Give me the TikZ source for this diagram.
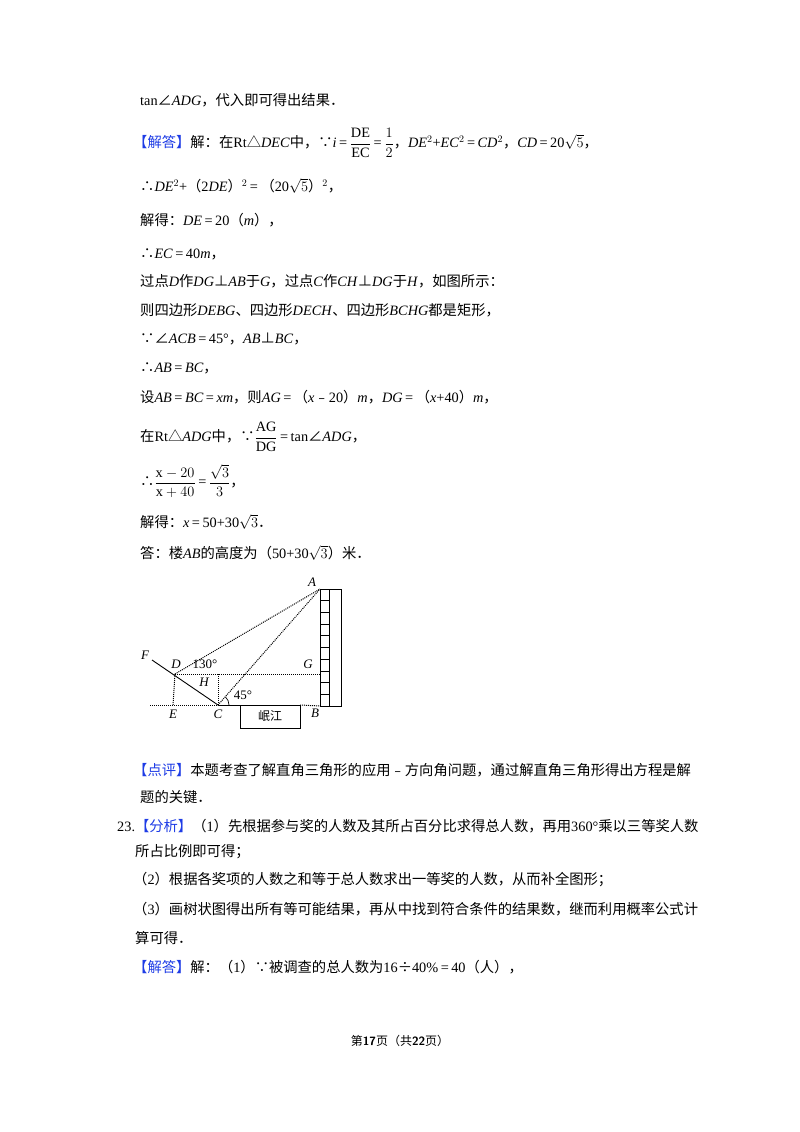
\documentclass[tikz,border=0pt]{standalone}
\usepackage{amsmath}
\usepackage{fontspec}
\usetikzlibrary{calc}
\setmainfont{Liberation Serif}
\newfontfamily\cjk{Noto Sans CJK SC}
\newcommand{\zh}[1]{{\cjk #1}}
\newcommand{\iv}[1]{\textit{#1}}
\newcommand{\eqq}{\hspace{2.5pt}=\hspace{2.5pt}}
\definecolor{hdblue}{RGB}{30,60,230}
\tikzset{ln/.style={anchor=west,inner sep=0pt,font=\fontsize{14.3}{16}\selectfont},
 dot/.style={densely dotted,line width=1pt},
 lbl/.style={font=\fontsize{13}{14}\selectfont\itshape,inner sep=1pt}}
\begin{document}
\begin{tikzpicture}[x=1pt,y=-1pt]
\useasboundingbox[fill=white] (0,0) rectangle (800,1132);
\node[ln] (l1) at (140,100) {tan\zh{∠}\iv{ADG}\zh{，代入即可得出结果．}};
\node[ln] (l2) at (133,143) {\textcolor{hdblue}{\zh{【解答】}}\zh{解：在}Rt\zh{△}\iv{DEC}\zh{中，∵}\iv{i}\eqq$\displaystyle\frac{\mathrm{DE}}{\mathrm{EC}}$\eqq$\displaystyle\frac{1}{2}$\zh{，}\iv{DE}$^2$+\iv{EC}$^2$\eqq\iv{CD}$^2$\zh{，}\iv{CD}\eqq20$\sqrt{5}$\zh{，}};
\node[ln] (l3) at (140,186) {\zh{∴}\iv{DE}$^2$+\zh{（}2\iv{DE}\zh{）}$^2$\eqq\zh{（}20$\sqrt{5}$\zh{）}$^2$\zh{，}};
\node[ln] (l4) at (140,220) {\zh{解得：}\iv{DE}\eqq20\zh{（}\iv{m}\zh{），}};
\node[ln] (l5) at (140,254) {\zh{∴}\iv{EC}\eqq40\iv{m}\zh{，}};
\node[ln] (l6) at (140,281) {\zh{过点}\iv{D}\zh{作}\iv{DG}\zh{⊥}\iv{AB}\zh{于}\iv{G}\zh{，过点}\iv{C}\zh{作}\iv{CH}\zh{⊥}\iv{DG}\zh{于}\iv{H}\zh{，如图所示：}};
\node[ln] (l7) at (140,310) {\zh{则四边形}\iv{DEBG}\zh{、四边形}\iv{DECH}\zh{、四边形}\iv{BCHG}\zh{都是矩形，}};
\node[ln] (l8) at (140,339) {\zh{∵∠}\iv{ACB}\eqq45°\zh{，}\iv{AB}\zh{⊥}\iv{BC}\zh{，}};
\node[ln] (l9) at (140,368) {\zh{∴}\iv{AB}\eqq\iv{BC}\zh{，}};
\node[ln] (l10) at (140,397) {\zh{设}\iv{AB}\eqq\iv{BC}\eqq\iv{xm}\zh{，则}\iv{AG}\eqq\zh{（}\iv{x}\zh{﹣}20\zh{）}\iv{m}\zh{，}\iv{DG}\eqq\zh{（}\iv{x}+40\zh{）}\iv{m}\zh{，}};
\node[ln] (l11) at (140,437) {\zh{在}Rt\zh{△}\iv{ADG}\zh{中，∵}$\displaystyle\frac{\mathrm{AG}}{\mathrm{DG}}$\eqq tan\zh{∠}\iv{ADG}\zh{，}};
\node[ln] (l12) at (140,481) {\zh{∴}$\displaystyle\frac{\mathrm{x}-20}{\mathrm{x}+40}$\eqq$\displaystyle\frac{\sqrt{3}}{3}$\zh{，}};
\node[ln] (l13) at (140,522) {\zh{解得：}\iv{x}\eqq50+30$\sqrt{3}$\zh{．}};
\node[ln] (l14) at (140,553) {\zh{答：楼}\iv{AB}\zh{的高度为（}50+30$\sqrt{3}$\zh{）米．}};
% diagram
\coordinate (A) at (320,589);
\coordinate (B) at (320,706);
\coordinate (Bb) at (341,706);
\coordinate (D) at (175,674);
\coordinate (F) at (152,660);
\coordinate (C) at (218,705);
\coordinate (E) at (173,705);
\coordinate (G) at (320,674);
\coordinate (H) at (218,674);
\coordinate (W) at (150,705);
\draw[line width=0.9pt] (A) rectangle (Bb);
\draw[line width=0.8pt] (329,589) -- (329,706);
\foreach \k in {1,...,9} \draw[line width=0.8pt] (320,589+11.7*\k) -- (329,589+11.7*\k);
\draw[line width=0.9pt] (F) -- (C);
\draw[dot] (W) -- (C);
\draw[line width=0.9pt] (C) -- (240,705);
\draw[line width=0.9pt] (240,705) rectangle (300,728);
\draw[dot] (300,705) -- (B);
\draw[dot] (D) -- (G);
\draw[dot] (D) -- (E);
\draw[dot] (H) -- (C);
\draw[dot] (D) -- (A);
\draw[dot] (C) -- (A);
\draw[line width=0.7pt] ($(C)+(11,0)$) arc[start angle=0,end angle=-47,radius=11];
\node[lbl] (tA) at (312,582) {A};
\node[lbl] (tF) at (145,655) {F};
\node[lbl] (tD) at (176,664) {D};
\node[lbl] (t130) at (205,664) {\upshape 130°};
\node[lbl] (tG) at (308,664) {G};
\node[lbl] (tH) at (204,682) {H};
\node[lbl] (t45) at (243,695) {\upshape 45°};
\node[lbl] (tE) at (173,714) {E};
\node[lbl] (tC) at (218,714) {C};
\node[lbl] (tB) at (315,713) {B};
\node[font=\fontsize{12}{13}\selectfont\cjk] (tj) at (270,716) {岷江};
\node[ln] (p1) at (133,770) {\textcolor{hdblue}{\zh{【点评】}}\zh{本题考查了解直角三角形的应用﹣方向角问题，通过解直角三角形得出方程是解}};
\node[ln] (p2) at (140,797) {\zh{题的关键．}};
\node[ln] (q1) at (117,826) {23.\textcolor{hdblue}{\zh{【分析】}}\zh{（}1\zh{）先根据参与奖的人数及其所占百分比求得总人数，再用}360°\zh{乘以三等奖人数}};
\node[ln] (q2) at (135,852) {\zh{所占比例即可得；}};
\node[ln] (q3) at (133,880) {\zh{（}2\zh{）根据各奖项的人数之和等于总人数求出一等奖的人数，从而补全图形；}};
\node[ln] (q4) at (133,909) {\zh{（}3\zh{）画树状图得出所有等可能结果，再从中找到符合条件的结果数，继而利用概率公式计}};
\node[ln] (q5) at (135,938) {\zh{算可得．}};
\node[ln] (q6) at (133,967) {\textcolor{hdblue}{\zh{【解答】}}\zh{解：（}1\zh{）∵被调查的总人数为}16\zh{÷}40\%\eqq40\zh{（人），}};
\node[font=\fontsize{12}{13}\selectfont,inner sep=0pt] (ft) at (400,1041) {\zh{第}{\sffamily\bfseries 17}\zh{页（共}{\sffamily\bfseries 22}\zh{页）}};
\end{tikzpicture}
\end{document}
